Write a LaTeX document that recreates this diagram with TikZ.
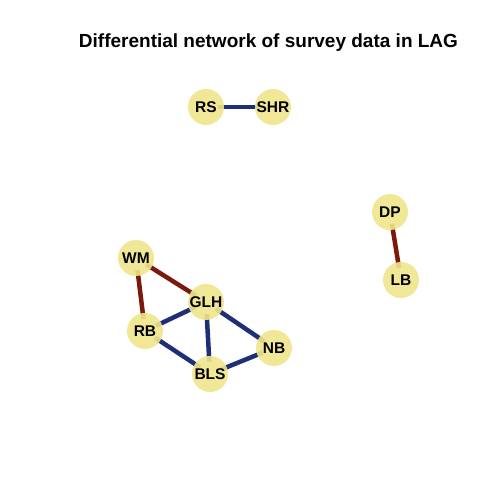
\documentclass[tikz,border=0pt]{standalone}
\usepackage{fontspec}
\setmainfont{Liberation Sans}
\definecolor{nodefill}{HTML}{F0E68C}
\definecolor{posedge}{HTML}{1E2F78}
\definecolor{negedge}{HTML}{7B1A0B}
\begin{document}
\begin{tikzpicture}[x=1pt,y=1pt,
  vert/.style={circle,fill=nodefill,fill opacity=0.9,text opacity=1,minimum size=36pt,inner sep=0pt,font=\fontsize{15.5}{17}\selectfont\bfseries},
  bluee/.style={draw=posedge,line width=4.5pt,shorten >=12pt,shorten <=12pt},
  rede/.style={draw=negedge,line width=4.5pt,shorten >=12pt,shorten <=12pt}]
\useasboundingbox[fill=white] (0,0) rectangle (500,500);
\node[font=\fontsize{19}{22}\selectfont\bfseries] (title) at (268.5,457) {Differential network of survey data in LAG};
% coordinates for centers
\coordinate (cRS) at (206,393);
\coordinate (cSHR) at (273,393);
\coordinate (cDP) at (390,288);
\coordinate (cLB) at (401,220);
\coordinate (cWM) at (136,242);
\coordinate (cGLH) at (206,198);
\coordinate (cRB) at (145,169);
\coordinate (cBLS) at (210,126);
\coordinate (cNB) at (274,152);
% edges
\draw[bluee] (cRS) -- (cSHR);
\draw[rede] (cDP) -- (cLB);
\draw[rede] (cWM) -- (cGLH);
\draw[rede] (cWM) -- (cRB);
\draw[bluee] (cGLH) -- (cRB);
\draw[bluee] (cGLH) -- (cBLS);
\draw[bluee] (cGLH) -- (cNB);
\draw[bluee] (cRB) -- (cBLS);
\draw[bluee] (cBLS) -- (cNB);
% nodes
\node[vert] (RS) at (cRS) {RS};
\node[vert] (SHR) at (cSHR) {SHR};
\node[vert] (DP) at (cDP) {DP};
\node[vert] (LB) at (cLB) {LB};
\node[vert] (WM) at (cWM) {WM};
\node[vert] (GLH) at (cGLH) {GLH};
\node[vert] (RB) at (cRB) {RB};
\node[vert] (BLS) at (cBLS) {BLS};
\node[vert] (NB) at (cNB) {NB};
\end{tikzpicture}
\end{document}
